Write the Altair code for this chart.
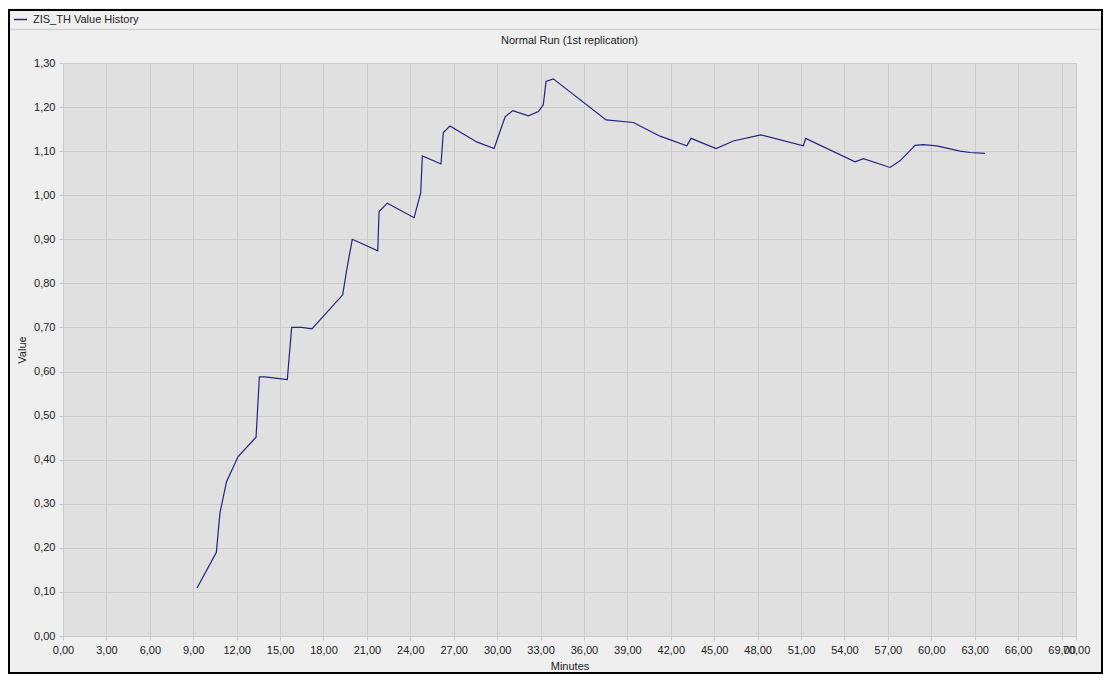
import altair as alt
import pandas as pd

# ---- data ----
minutes = [9.26, 10.6, 10.72, 10.85, 11.3, 12.1, 13.34, 13.57, 13.96, 15.5,
           15.8, 16.5, 17.2, 19.33, 19.6, 19.99, 21.75, 21.84, 22.41, 24.26,
           24.72, 24.83, 26.12, 26.28, 26.74, 28.59, 29.79, 30.55, 31.08, 32.16,
           32.85, 33.19, 33.38, 33.88, 37.53, 39.41, 41.26, 43.1, 43.4, 45.13,
           46.32, 48.21, 51.16, 51.32, 54.73, 55.31, 57.15, 57.84, 58.88, 59.45,
           60.38, 61.99, 62.68, 63.72]
values = [0.109, 0.19, 0.235, 0.28, 0.35, 0.407, 0.451, 0.588, 0.588, 0.582,
          0.70, 0.70, 0.697, 0.774, 0.83, 0.90, 0.874, 0.963, 0.982, 0.949,
          1.006, 1.089, 1.071, 1.142, 1.157, 1.121, 1.106, 1.178, 1.192, 1.18,
          1.19, 1.205, 1.258, 1.264, 1.171, 1.165, 1.134, 1.112, 1.129, 1.106,
          1.123, 1.137, 1.112, 1.129, 1.076, 1.083, 1.063, 1.078, 1.113, 1.115,
          1.112, 1.10, 1.097, 1.095]
series_name = "ZIS_TH Value History"
subtitle = "Normal Run (1st replication)"
x_ticks = [0, 3, 6, 9, 12, 15, 18, 21, 24, 27, 30, 33, 36, 39, 42, 45, 48,
           51, 54, 57, 60, 63, 66, 69, 70]
y_ticks = [0.0, 0.1, 0.2, 0.3, 0.4, 0.5, 0.6, 0.7, 0.8, 0.9, 1.0, 1.1, 1.2, 1.3]

df = pd.DataFrame({"Minutes": minutes, "Value": values,
                   "series": [series_name] * len(minutes)})

W, H = 1013, 573
FONT = "Liberation Sans"
LINE_COLOR = "#23237f"
GRID = "#cbcbcb"
TEXT = "#222222"
comma_fmt = "replace(format(datum.value, '.2f'), '.', ',')"

line = alt.Chart(df).mark_line(strokeWidth=1.2).encode(
    x=alt.X("Minutes:Q",
            scale=alt.Scale(domain=[0, 70], nice=False, zero=False),
            axis=alt.Axis(values=x_ticks, labelExpr=comma_fmt, title="Minutes",
                          labelOverlap=False, labelFlush=False, labelBound=False,
                          titlePadding=5)),
    y=alt.Y("Value:Q",
            scale=alt.Scale(domain=[0, 1.3], nice=False),
            axis=alt.Axis(values=y_ticks, labelExpr=comma_fmt, title="Value",
                          labelOverlap=False, labelFlush=False, titlePadding=6)),
    color=alt.Color("series:N",
                    scale=alt.Scale(domain=[series_name], range=[LINE_COLOR]),
                    legend=alt.Legend(title=None, orient="none", legendX=-50,
                                      legendY=-51, symbolType="stroke",
                                      symbolSize=169, symbolStrokeWidth=1.5,
                                      labelFont=FONT, labelFontSize=11,
                                      labelColor=TEXT, labelOffset=5)),
)

deco = alt.Data(values=[{"k": 1}])
frame = alt.Chart(deco).mark_rect(fillOpacity=0, stroke="black", strokeWidth=2).encode(
    x=alt.value(-54), x2=alt.value(1039), y=alt.value(-53), y2=alt.value(610)
)
separator = alt.Chart(deco).mark_rule(color="#d2d2d2", strokeWidth=1.5).encode(
    x=alt.value(-53), x2=alt.value(1038), y=alt.value(-33.5)
)
title_text = alt.Chart(alt.Data(values=[{"t": subtitle}])).mark_text(
    font=FONT, fontSize=11, color=TEXT, align="center", baseline="middle"
).encode(
    text="t:N", x=alt.value(W / 2), y=alt.value(-22)
)

chart = alt.layer(separator, frame, title_text, line).properties(
    width=W, height=H,
    padding={"left": 55, "top": 55, "right": 27, "bottom": 38},
    autosize=alt.AutoSizeParams(type="none"),
    background="#efefef",
).configure_view(
    fill="#e0e0e0", stroke="transparent"
).configure_axis(
    gridColor=GRID, gridWidth=1, domain=False, tickColor=GRID, tickSize=4,
    labelFont=FONT, labelFontSize=11, labelColor=TEXT, labelPadding=4,
    titleFont=FONT, titleFontSize=11, titleFontWeight="normal", titleColor=TEXT,
)

chart.save("out.html", embed_options={"renderer": "svg", "actions": False})
